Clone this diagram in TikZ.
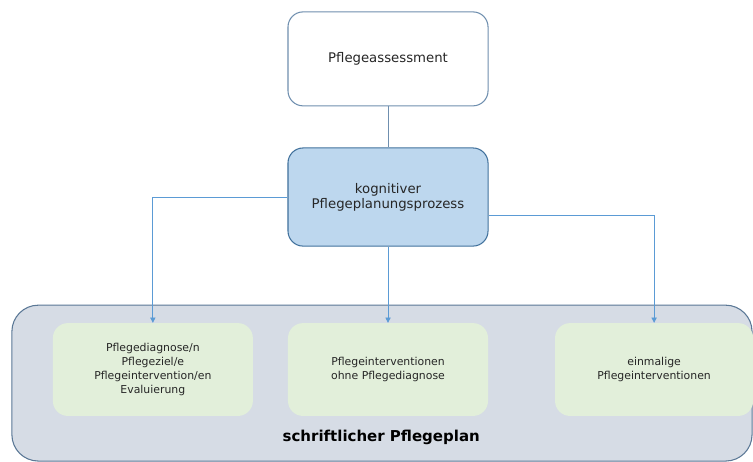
\documentclass[tikz,border=0pt]{standalone}
\usepackage{fontspec}
\setmainfont{DejaVu Sans}
\usetikzlibrary{arrows.meta}
\definecolor{framecol}{HTML}{6F8FAF}
\definecolor{midfill}{HTML}{BDD7EE}
\definecolor{midline}{HTML}{41719C}
\definecolor{planfill}{HTML}{D6DCE5}
\definecolor{planline}{HTML}{5B7896}
\definecolor{itemfill}{HTML}{E2EFDA}
\definecolor{linkcol}{HTML}{5B9BD5}
\definecolor{textcol}{HTML}{262626}
\begin{document}
\begin{tikzpicture}[
    topbox/.style={draw=framecol, thick, fill=white, rounded corners=0.4cm, minimum width=5.3cm, minimum height=2.49cm, align=center, text=textcol, font=\fontsize{10}{11.5}\selectfont},
    procbox/.style={draw=midline, thick, fill=midfill, rounded corners=0.4cm, minimum width=5.3cm, minimum height=2.6cm, align=center, text=textcol, font=\fontsize{10}{11.5}\selectfont},
    planbox/.style={draw=planline, thick, fill=planfill, rounded corners=0.7cm, minimum width=19.61cm, minimum height=4.13cm},
    itembox/.style={fill=itemfill, rounded corners=0.4cm, minimum width=5.3cm, minimum height=2.46cm, align=center, text=textcol, font=\fontsize{8.2}{10.5}\selectfont},
    link/.style={draw=linkcol, line width=0.6pt},
    linkarrow/.style={link, -{Triangle[width=4pt,length=4pt]}}
  ]
    \useasboundingbox (0,0) rectangle (19.95,-12.24);

    \node[planbox] (plan) at (10.12,-10.15) {};
    \node[text=black, font=\bfseries\fontsize{11.3}{13}\selectfont] (planlabel) at (10.10,-11.58) {schriftlicher Pflegeplan};

    \node[topbox] (assess) at (10.28,-1.56) {Pflegeassessment};
    \node[procbox] (proc) at (10.28,-5.22) {kognitiver\\Pflegeplanungsprozess};

    \node[itembox] (diag) at (4.05,-9.79) {Pflegediagnose/n\\Pflegeziel/e\\Pflegeintervention/en\\Evaluierung};
    \node[itembox] (ohne) at (10.28,-9.79) {Pflegeinterventionen\\ohne Pflegediagnose};
    \node[itembox, minimum width=5.25cm] (einmal) at (17.33,-9.79) {einmalige\\Pflegeinterventionen};

    \draw[link, draw=framecol] (assess) -- (proc);
    \draw[linkarrow] (proc.west) -| (diag.north);
    \draw[linkarrow] (proc.south) -- (ohne.north);
    \draw[linkarrow] ([yshift=-0.48cm]proc.east) -| (einmal.north);
\end{tikzpicture}
\end{document}
